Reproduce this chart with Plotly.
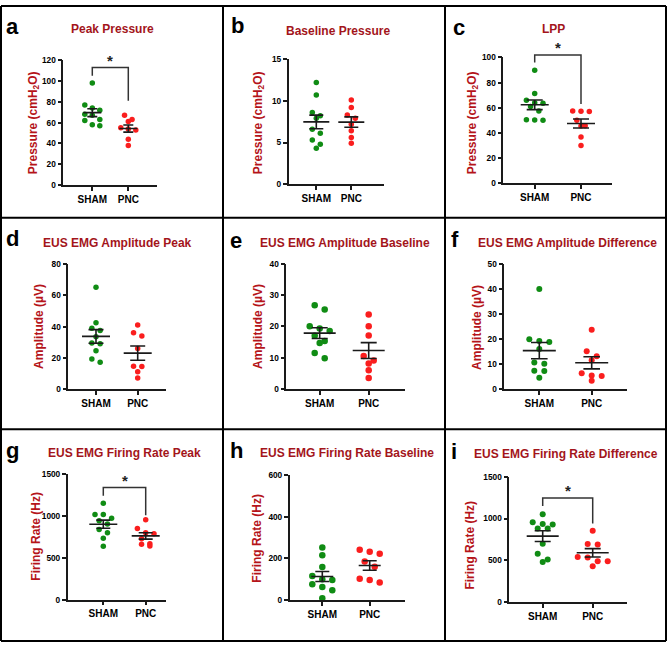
import numpy as np
import plotly.graph_objects as go

W, H = 669, 648

# ---------------- data ----------------
categories = ["SHAM", "PNC"]
panel_letters = ["a", "b", "c", "d", "e", "f", "g", "h", "i"]
panel_titles = ["Peak Pressure", "Baseline Pressure", "LPP",
                "EUS EMG Amplitude Peak", "EUS EMG Amplitude Baseline",
                "EUS EMG Amplitude Difference",
                "EUS EMG Firing Rate Peak", "EUS EMG Firing Rate Baseline",
                "EUS EMG Firing Rate Difference"]
y_titles = ["Pressure (cmH<sub>2</sub>O)"] * 3 + ["Amplitude (µV)"] * 3 + ["Firing Rate (Hz)"] * 3

peak_sham = [98, 77, 74, 72, 68, 67, 63, 62, 58, 57]
peak_pnc = [67, 63, 61, 55, 54, 53, 44, 38]
baseline_sham = [12.2, 10.7, 8.6, 8.2, 7.9, 6.6, 6.1, 5.3, 4.8, 4.3]
baseline_pnc = [10.1, 9.2, 8.3, 7.9, 7.2, 6.4, 5.6, 4.9]
lpp_sham = [89.8, 71.3, 66.0, 64.0, 63.5, 61.0, 57.5, 50.4, 50.2, 50.0]
lpp_pnc = [57.4, 57.2, 57.0, 50.0, 45.7, 45.5, 36.8, 30.0]
amp_peak_sham = [65.3, 42.5, 39.0, 37.5, 33.5, 29.5, 29.0, 24.5, 19.2, 17.2]
amp_peak_pnc = [41.0, 36.0, 34.0, 26.0, 14.5, 14.4, 11.0, 7.0]
amp_base_sham = [26.7, 25.4, 20.0, 19.3, 18.5, 17.0, 15.3, 14.7, 11.5, 9.8]
amp_base_pnc = [23.8, 20.0, 17.1, 10.5, 9.1, 8.1, 6.0, 3.5]
amp_diff_sham = [39.9, 19.8, 18.7, 19.1, 16.0, 10.6, 10.1, 7.3, 7.2, 4.5]
amp_diff_pnc = [23.6, 15.1, 11.5, 13.1, 6.3, 5.2, 5.4, 3.3]
fr_peak_sham = [1155, 1020, 1020, 975, 945, 905, 840, 800, 735, 640]
fr_peak_pnc = [958, 852, 800, 790, 730, 670, 662, 642]
fr_base_sham = [252, 215, 158, 115, 100, 96, 76, 62, 47, 8]
fr_base_pnc = [241, 231, 222, 185, 160, 102, 96, 84]
fr_diff_sham = [1050, 955, 930, 935, 880, 880, 700, 580, 510, 480]
fr_diff_pnc = [854, 690, 695, 540, 535, 490, 490, 432]

sham_values = [peak_sham, baseline_sham, lpp_sham, amp_peak_sham, amp_base_sham,
               amp_diff_sham, fr_peak_sham, fr_base_sham, fr_diff_sham]
pnc_values = [peak_pnc, baseline_pnc, lpp_pnc, amp_peak_pnc, amp_base_pnc,
              amp_diff_pnc, fr_peak_pnc, fr_base_pnc, fr_diff_pnc]

y_max = [120, 15, 100, 80, 40, 50, 1500, 600, 1500]
y_step = [20, 5, 20, 20, 10, 10, 500, 200, 500]
# significance brackets: (top level, SHAM leg end, PNC leg end)
brackets = [(113, 105, 81), None, (102, 96, 63), None, None, None,
            (1343, 1245, 1010), None, (1245, 1148, 940)]

# ---------------- layout / styles (pixels) ----------------
# left, right, sham_x, pnc_x, y_top, y_bottom
geom = [
    (63.3, 157.0, 92.3, 128.3, 56.0, 183.0),
    (288.7, 384.0, 316.3, 351.3, 55.0, 182.0),
    (503.3, 611.7, 534.7, 581.0, 53.3, 181.0),
    (68.3, 165.7, 96.0, 137.7, 263.3, 390.0),
    (286.3, 404.7, 319.7, 368.7, 262.7, 390.0),
    (504.3, 627.0, 539.3, 591.7, 262.7, 390.0),
    (67.7, 165.7, 103.3, 145.7, 476.7, 604.0),
    (289.7, 404.7, 322.3, 369.7, 477.3, 604.3),
    (509.3, 627.0, 542.7, 592.7, 479.0, 606.7),
]
letter_pos = [(13, 22), (237, 21), (459, 23), (13, 237), (236, 239), (455, 238),
              (13, 452), (236, 452), (454, 453)]
title_pos = [(112, 24), (338, 26), (553, 24), (117, 242), (345, 242), (567, 242),
             (124, 455), (347, 455), (566, 456)]
ytitle_pos = [(34, 120), (259, 120), (473, 120), (39, 327), (258, 327), (477, 327),
              (36, 540), (257, 542), (470, 548)]
marker_px = [5.5, 5.5, 5.5, 5.5, 6.5, 6, 5.5, 6.5, 6]
spread_px = [7.5, 8, 8.3, 8.3, 10, 10, 8.3, 10, 10]
mean_half_px = [9, 13, 14, 14, 16, 16.5, 14, 11, 16]
cap_half_px = [5, 7, 8, 7.5, 8, 8.3, 7, 7, 8]
EXTRA_PX = 40  # headroom of the invisible bracket axis

GREEN = "#108C14"
RED = "#FA1E1E"
TITLE_RED = "#A3151B"
AXIS_RED = "#B5141A"
BLACK = "#1a1a1a"
FONT = "Liberation Sans"

fig = go.Figure()
annotations = []
shapes = []


def swarm(vals, ppu_y, ppu_x, d_px, s_px):
    vals = np.asarray(vals, dtype=float)
    order = np.argsort(-vals, kind="stable")
    offsets = np.zeros(len(vals))
    rows, cur = [], []
    for idx in order:
        if cur and (vals[cur[0]] - vals[idx]) * ppu_y >= d_px:
            rows.append(cur)
            cur = []
        cur.append(idx)
    rows.append(cur)
    for row in rows:
        n = len(row)
        for k, idx in enumerate(row):
            offsets[idx] = (k - (n - 1) / 2) * s_px / ppu_x
    return offsets


extra_axis_n = 10
for p in range(9):
    left, right, sx, px_, yt, yb = geom[p]
    n = p + 1
    xname = "xaxis" if n == 1 else f"xaxis{n}"
    yname = "yaxis" if n == 1 else f"yaxis{n}"
    xid = "x" if n == 1 else f"x{n}"
    yid = "y" if n == 1 else f"y{n}"
    ppu_x = px_ - sx
    x0 = -(sx - left) / ppu_x
    x1 = 1 + (right - px_) / ppu_x
    ppu_y = (yb - yt) / y_max[p]

    fig.layout[xname] = dict(
        domain=[left / W, right / W], range=[x0, x1], anchor=yid,
        showline=True, linecolor=BLACK, linewidth=1.6, ticks="outside",
        ticklen=4, tickwidth=1.6, tickcolor=BLACK, tickvals=[0, 1],
        ticktext=categories, showgrid=False, zeroline=False, fixedrange=True,
        tickfont=dict(family=FONT, size=10, color="black", weight="bold"))
    fig.layout[yname] = dict(
        domain=[1 - yb / H, 1 - yt / H], range=[0, y_max[p]], anchor=xid,
        showline=True, linecolor=BLACK, linewidth=1.6, ticks="outside",
        ticklen=4, tickwidth=1.6, tickcolor=BLACK,
        tickvals=list(np.arange(0, y_max[p] + y_step[p] / 2, y_step[p])),
        showgrid=False, zeroline=False, fixedrange=True,
        tickfont=dict(family=FONT, size=8.3, color="black", weight="bold"))

    groups = [(0, sham_values[p], GREEN), (1, pnc_values[p], RED)]
    for gx, vals, col in groups:
        offs = swarm(vals, ppu_y, ppu_x, marker_px[p], spread_px[p])
        fig.add_trace(go.Scatter(
            x=gx + offs, y=vals, mode="markers", xaxis=xid, yaxis=yid,
            marker=dict(color=col, size=marker_px[p], line=dict(width=0)),
            cliponaxis=False, showlegend=False, hoverinfo="skip"))

    lx, ly = [], []
    mh = mean_half_px[p] / ppu_x
    ch = cap_half_px[p] / ppu_x
    for gx, vals, col in groups:
        v = np.asarray(vals, dtype=float)
        m = v.mean()
        sem = v.std(ddof=1) / np.sqrt(len(v))
        lx += [gx - mh, gx + mh, None, gx, gx, None,
               gx - ch, gx + ch, None, gx - ch, gx + ch, None]
        ly += [m, m, None, m - sem, m + sem, None,
               m + sem, m + sem, None, m - sem, m - sem, None]
    fig.add_trace(go.Scatter(x=lx, y=ly, mode="lines", xaxis=xid, yaxis=yid,
                             line=dict(color=BLACK, width=1.6),
                             showlegend=False, hoverinfo="skip", cliponaxis=False))

    if brackets[p] is not None:
        # invisible y axis with the same scale but extra headroom
        bn = extra_axis_n
        extra_axis_n += 1
        byname, byid = f"yaxis{bn}", f"y{bn}"
        top_px = yt - EXTRA_PX
        fig.layout[byname] = dict(
            domain=[1 - yb / H, 1 - top_px / H],
            range=[0, y_max[p] * (yb - top_px) / (yb - yt)],
            anchor=xid, visible=False, showticklabels=False, ticks="",
            showline=False, fixedrange=True, showgrid=False, zeroline=False)
        top, le, re = brackets[p]
        fig.add_trace(go.Scatter(x=[0, 0, 1, 1], y=[le, top, top, re], mode="lines",
                                 xaxis=xid, yaxis=byid,
                                 line=dict(color="#333333", width=1.5),
                                 showlegend=False, hoverinfo="skip"))
        annotations.append(dict(x=0.5, y=top, xref=xid, yref=byid, text="<b>*</b>",
                                showarrow=False, xanchor="center", yanchor="middle",
                                yshift=7,
                                font=dict(family=FONT, size=15, color="#222222")))

    lxp, lyp = letter_pos[p]
    annotations.append(dict(x=lxp / W, y=1 - lyp / H, xref="paper", yref="paper",
                            text=f"<b>{panel_letters[p]}</b>", showarrow=False,
                            xanchor="center", yanchor="middle",
                            font=dict(family=FONT, size=22, color="black")))
    txp, typ = title_pos[p]
    annotations.append(dict(x=txp / W, y=1 - typ / H, xref="paper", yref="paper",
                            text=f"<b>{panel_titles[p]}</b>", showarrow=False,
                            xanchor="center", yanchor="middle",
                            font=dict(family=FONT, size=12, color=TITLE_RED)))
    yxp, yyp = ytitle_pos[p]
    annotations.append(dict(x=yxp / W, y=1 - yyp / H, xref="paper", yref="paper",
                            text=f"<b>{y_titles[p]}</b>", showarrow=False,
                            textangle=-90, xanchor="center", yanchor="middle",
                            font=dict(family=FONT, size=12, color=AXIS_RED)))

# panel borders
for xp in [1, 223, 445, 666]:
    shapes.append(dict(type="line", xref="paper", yref="paper",
                       x0=xp / W, x1=xp / W, y0=1 - 646 / H, y1=1 - 1 / H,
                       line=dict(color="black", width=2)))
for yp in [1, 216, 431, 646]:
    shapes.append(dict(type="line", xref="paper", yref="paper",
                       x0=1 / W, x1=666 / W, y0=1 - yp / H, y1=1 - yp / H,
                       line=dict(color="black", width=2)))

fig.update_layout(width=W, height=H, margin=dict(l=0, r=0, t=0, b=0),
                  paper_bgcolor="white", plot_bgcolor="rgba(0,0,0,0)",
                  annotations=annotations, shapes=shapes, showlegend=False,
                  font=dict(family=FONT))

fig.write_html("out.html", config={"displayModeBar": False})
